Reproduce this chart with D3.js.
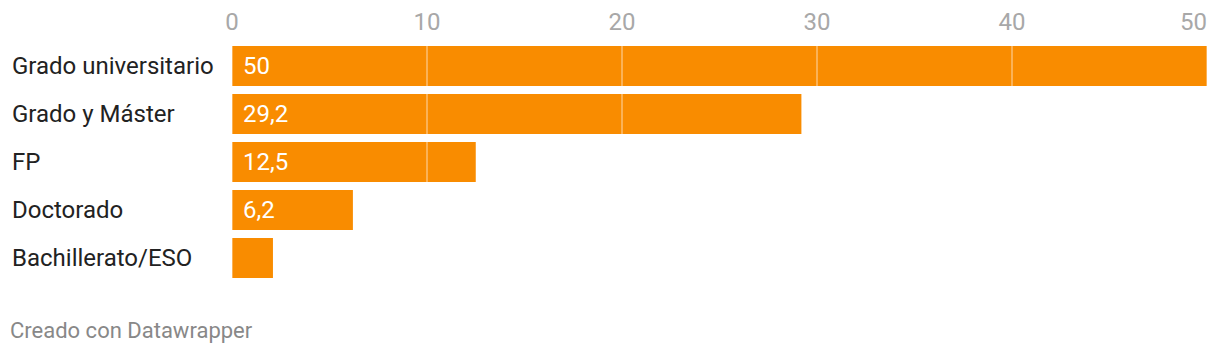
<!DOCTYPE html>
<html lang="es">
  <meta charset="UTF-8" />
  <title>Nivel de estudios</title>
  <style>
    body { margin: 0; background: #fff; }
    text { font-family: Roboto, sans-serif; }
  </style>
  <script src="https://d3js.org/d3.v7.min.js"></script>
  <body>
    <div id="chart"></div>
    <script>
      const categories = ["Grado universitario", "Grado y Máster", "FP", "Doctorado", "Bachillerato/ESO"];
      const values = [50, 29.2, 12.5, 6.2, 2.1];
      const valueLabels = ["50", "29,2", "12,5", "6,2", ""];
      const ticks = [0, 10, 20, 30, 40, 50];

      const width = 1220, height = 354;
      const svg = d3.select("#chart").append("svg")
        .attr("width", width).attr("height", height);

      const x = d3.scaleLinear().domain([0, 50]).range([232, 1207]);
      const y = d3.scaleBand().domain(categories).range([42, 282]).paddingInner(8 / 48).paddingOuter(4 / 48);

      // tick labels at top
      svg.append("g").selectAll("text").data(ticks).join("text")
        .attr("x", (d) => x(d))
        .attr("y", 30)
        .attr("text-anchor", (d, i) => (i == ticks.length - 1 ? "end" : "middle"))
        .attr("fill", "#a8a8a8")
        .style("font-size", "24px")
        .text((d) => d);

      // bars
      svg.append("g").selectAll("rect").data(values).join("rect")
        .attr("x", x(0))
        .attr("y", (d, i) => y(categories[i]))
        .attr("width", (d) => x(d) - x(0))
        .attr("height", y.bandwidth())
        .attr("fill", "#f98c00");

      // gridlines over the bars
      svg.append("g").selectAll("line").data(ticks).join("line")
        .attr("x1", (d) => x(d)).attr("x2", (d) => x(d))
        .attr("y1", 42).attr("y2", 282)
        .attr("stroke", "#fff").attr("stroke-opacity", 0.45).attr("stroke-width", 1.5);

      // category labels
      svg.append("g").selectAll("text").data(categories).join("text")
        .attr("x", 12)
        .attr("y", (d) => y(d) + y.bandwidth() / 2)
        .attr("dy", "0.35em")
        .attr("fill", "#222")
        .style("font-size", "24px")
        .text((d) => d);

      // value labels
      svg.append("g").selectAll("text").data(valueLabels).join("text")
        .attr("x", x(0) + 11)
        .attr("y", (d, i) => y(categories[i]) + y.bandwidth() / 2)
        .attr("dy", "0.35em")
        .attr("fill", "#fff")
        .style("font-size", "24px")
        .text((d) => d);

      svg.append("text")
        .attr("x", 10).attr("y", 338)
        .attr("fill", "#888")
        .style("font-size", "22px")
        .text("Creado con Datawrapper");
    </script>
  </body>
</html>
